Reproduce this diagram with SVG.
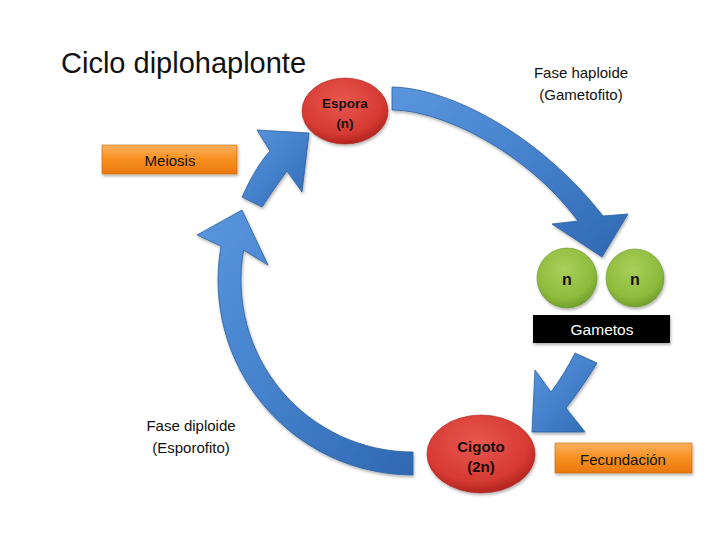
<svg xmlns="http://www.w3.org/2000/svg" width="720" height="540" viewBox="0 0 720 540">
<style>
.t{font-family:"Liberation Sans",Arial,sans-serif;fill:#111;text-anchor:middle}
.b{font-weight:bold;fill:#1a0d0d}
.arrow{fill:url(#blue);stroke:#2b5f9f;stroke-width:0.8;filter:url(#sh)}
.box{fill:url(#orange);stroke:#c9650c;stroke-width:0.6;filter:url(#sh)}
</style>
<defs>
<linearGradient id="blue" x1="0" y1="0" x2="1" y2="1">
<stop offset="0" stop-color="#5a96dd"/>
<stop offset="0.5" stop-color="#4581cc"/>
<stop offset="1" stop-color="#2f68b2"/>
</linearGradient>
<radialGradient id="red" cx="0.45" cy="0.35" r="0.7">
<stop offset="0" stop-color="#e8574f"/>
<stop offset="0.7" stop-color="#d63a33"/>
<stop offset="1" stop-color="#a81f1a"/>
</radialGradient>
<radialGradient id="green" cx="0.45" cy="0.35" r="0.7">
<stop offset="0" stop-color="#a8d05a"/>
<stop offset="0.7" stop-color="#8dbb3c"/>
<stop offset="1" stop-color="#6a972a"/>
</radialGradient>
<linearGradient id="orange" x1="0" y1="0" x2="0" y2="1">
<stop offset="0" stop-color="#fbb060"/>
<stop offset="0.5" stop-color="#f7901f"/>
<stop offset="1" stop-color="#e9780e"/>
</linearGradient>
<filter id="sh" x="-20%" y="-20%" width="140%" height="140%">
<feDropShadow dx="1" dy="2" stdDeviation="1.5" flood-color="#000" flood-opacity="0.3"/>
</filter>
</defs>
<rect width="720" height="540" fill="#fff"/>

<text class="t" x="61" y="73" font-size="29" style="text-anchor:start">Ciclo diplohaplonte</text>

<g id="connectors">
<path class="arrow" d="M392,87 C450,88 540,135 603,216 L628,214 L602,257 L552,224 L578,221 C525,150 440,110 392,110 Z"/>
<path class="arrow" d="M413,475 A195 195 0 0 1 221,246.1 L197,235 L242,210 L268,265 L243.6,250.1 A172 172 0 0 0 413,452 Z"/>
<path class="arrow" d="M242,197 C250,180 258,164 270,151 L257,130 L309,133 L302,192 L287,171 C278,183 270,195 262,207 Z"/>
<path class="arrow" d="M575,353 C568,367 560,380 551,392 L535,370 L532,432 L585,432 L566,408 C577,394 588,378 597,363 Z"/>
</g>

<g id="espora">
<ellipse cx="345" cy="111" rx="43" ry="33" fill="url(#red)" stroke="#a52420" stroke-width="0.6" filter="url(#sh)"/>
<text class="t b" x="345" y="108" font-size="13.5">Espora</text>
<text class="t b" x="345" y="128" font-size="13.5">(n)</text>
</g>

<g id="fase-haploide">
<text class="t" x="581" y="78" font-size="15">Fase haploide</text>
<text class="t" x="581" y="100" font-size="15">(Gametofito)</text>
</g>

<g id="meiosis">
<rect class="box" x="102" y="145" width="135" height="29"/>
<text class="t" x="170" y="166" font-size="15" fill="#1a0d0d">Meiosis</text>
</g>

<g id="gameto1">
<circle cx="567" cy="278" r="30" fill="url(#green)" stroke="#6a962b" stroke-width="0.6" filter="url(#sh)"/>
<text class="t b" x="567" y="285" font-size="16">n</text>
</g>
<g id="gameto2">
<circle cx="635" cy="278" r="29" fill="url(#green)" stroke="#6a962b" stroke-width="0.6" filter="url(#sh)"/>
<text class="t b" x="635" y="285" font-size="16">n</text>
</g>

<g id="gametos">
<rect x="533" y="315" width="137" height="28" fill="#000" filter="url(#sh)"/>
<text class="t" x="602" y="335" font-size="15.5" style="fill:#fff">Gametos</text>
</g>

<g id="fase-diploide">
<text class="t" x="191" y="431" font-size="15">Fase diploide</text>
<text class="t" x="191" y="453" font-size="15">(Esporofito)</text>
</g>

<g id="cigoto">
<ellipse cx="481" cy="454" rx="54" ry="39" fill="url(#red)" stroke="#a52420" stroke-width="0.6" filter="url(#sh)"/>
<text class="t b" x="481" y="452" font-size="15">Cigoto</text>
<text class="t b" x="481" y="472" font-size="15">(2n)</text>
</g>

<g id="fecundacion">
<rect class="box" x="555" y="443" width="137" height="30"/>
<text class="t" x="623" y="465" font-size="15" fill="#1a0d0d">Fecundación</text>
</g>
</svg>
